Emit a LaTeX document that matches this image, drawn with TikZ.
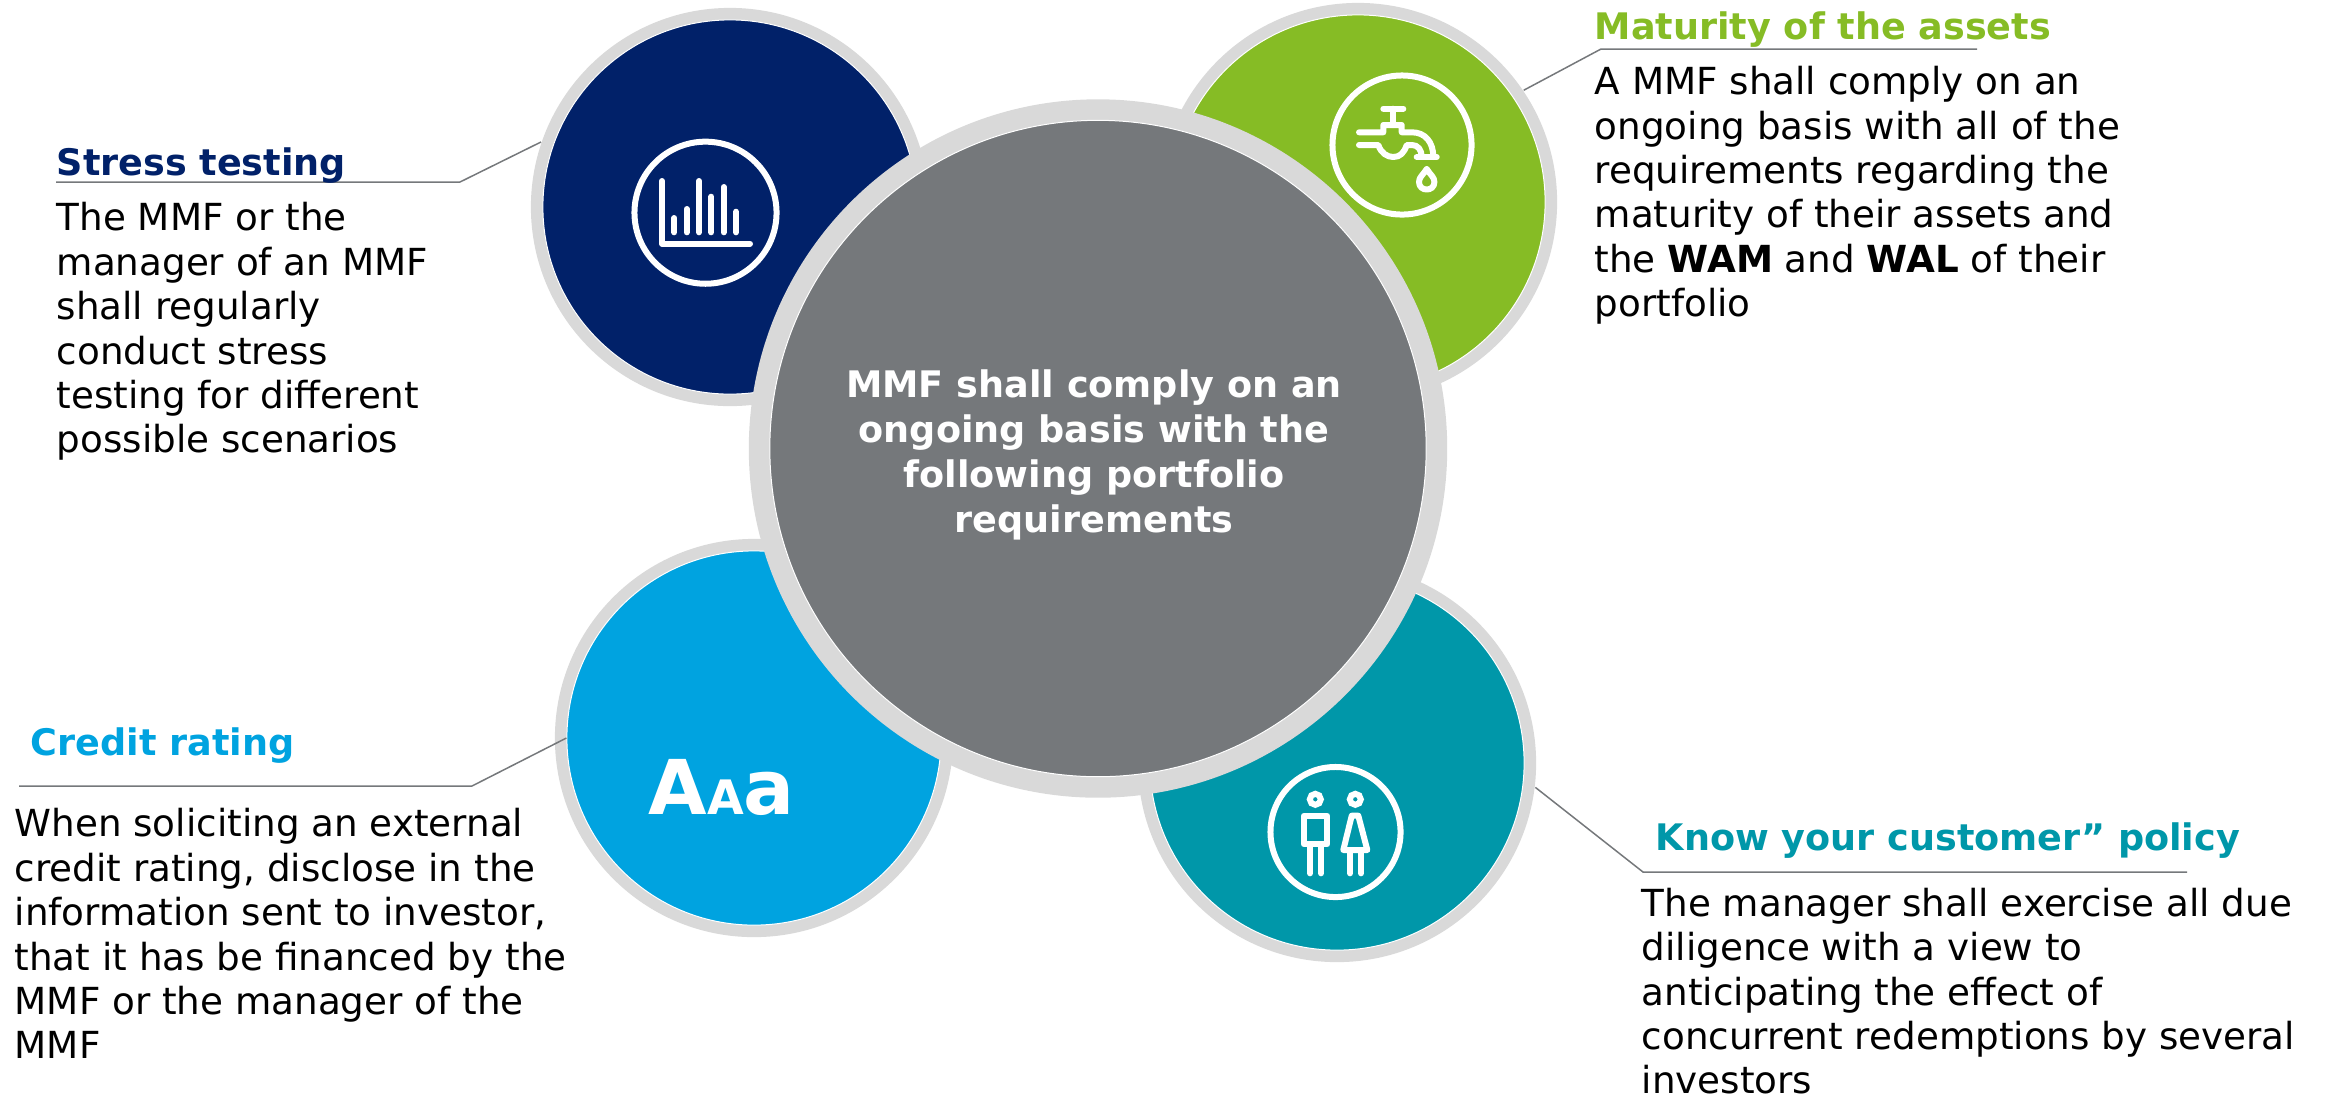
\documentclass[tikz,border=0pt]{standalone}
\usepackage{fontspec}
\setmainfont{DejaVu Sans}
\definecolor{navy}{HTML}{012169}
\definecolor{leaf}{HTML}{86BC25}
\definecolor{sky}{HTML}{00A3E0}
\definecolor{sea}{HTML}{0097A9}
\definecolor{slate}{HTML}{75787B}
\definecolor{halo}{HTML}{D9D9D9}
\begin{document}
\begin{tikzpicture}[x=0.01cm,y=-0.01cm]
  \tikzstyle{ring}=[circle, fill=halo, minimum size=3.98cm, inner sep=0pt]
  \tikzstyle{disc}=[circle, draw=white, line width=0.01cm, minimum size=3.74cm, inner sep=0pt]
  \tikzstyle{emblem}=[circle, draw=white, line width=0.06cm, inner sep=0pt]
  \tikzstyle{stroke}=[draw=white, line width=0.06cm, line cap=round, line join=round]
  \tikzstyle{leader}=[draw=slate, line width=0.015cm]
  \tikzstyle{head}=[anchor=base west, inner sep=0pt, font=\fontsize{10.4}{14}\selectfont\bfseries]
  \tikzstyle{body}=[anchor=north west, inner sep=0pt, align=left, font=\fontsize{10.6}{12.65}\selectfont]

  \useasboundingbox (0,0) rectangle (2325,1099);

  \node[ring]            (navyring) at (730,  207) {};
  \node[ring]            (leafring) at (1358, 202) {};
  \node[ring]            (skyring)  at (754,  738) {};
  \node[ring]            (searing)  at (1337, 763) {};
  \node[disc, fill=navy] (navydisc) at (730,  207) {};
  \node[disc, fill=leaf] (leafdisc) at (1358, 202) {};
  \node[disc, fill=sky]  (skydisc)  at (754,  738) {};
  \node[disc, fill=sea]  (seadisc)  at (1337, 763) {};

  \node[ring, minimum size=6.98cm] (mainring) at (1098, 448.5) {};
  \node[disc, fill=slate, minimum size=6.56cm] (maindisc) at (1098, 448.5) {};
  \node[align=center, inner sep=0pt, text=white, font=\fontsize{10.4}{12.75}\selectfont\bfseries] (mainlabel) at (1094, 455)
    {MMF shall comply on an\\ongoing basis with the\\following portfolio\\requirements};

  % bars
  \node[emblem, minimum size=1.42cm] (barsicon) at (705.5, 212.7) {};
  \draw[stroke] (662,181) -- (662,243.7) -- (750,243.7);
  \draw[stroke] (674.3,218) -- (674.3,232.3);
  \draw[stroke] (686.7,209) -- (686.7,232.3);
  \draw[stroke] (699,181) -- (699,232.3);
  \draw[stroke] (711.3,196.7) -- (711.3,232.3);
  \draw[stroke] (723.7,187) -- (723.7,232.3);
  \draw[stroke] (736,211.7) -- (736,232.3);

  % tap
  \node[emblem, minimum size=1.39cm] (tapicon) at (1402, 145) {};
  \draw[stroke] (1383.3,108.7) -- (1403.3,108.7);
  \draw[stroke] (1393.3,108.7) -- (1393.3,125);
  \draw[stroke] (1359,132.3) -- (1383.3,132.3) -- (1383.3,125) -- (1401.7,125) -- (1401.7,132.3) -- (1412,132.3)
    .. controls (1425,132.3) and (1433.3,142) .. (1433.3,157);
  \draw[stroke] (1359,145) -- (1378.3,145) .. controls (1381,153) and (1387,157) .. (1393.3,157)
    .. controls (1400,157) and (1404,153) .. (1406.7,145) -- (1412,145) .. controls (1418,145) and (1421.7,150) .. (1421.7,157);
  \draw[stroke] (1416.7,157) -- (1436.7,157);
  \draw[stroke] (1426.7,169) .. controls (1423,175) and (1419,177) .. (1419,182)
    .. controls (1419,192) and (1434.4,192) .. (1434.4,182) .. controls (1434.4,177) and (1430.4,175) .. (1426.7,169);

  % people
  \node[emblem, minimum size=1.30cm] (peopleicon) at (1335.5, 832) {};
  \node[emblem, minimum size=0.11cm] (manhead) at (1315.3, 799.3) {};
  \node[emblem, minimum size=0.11cm] (womanhead) at (1355.3, 799.3) {};
  \draw[stroke] (1304,815.7) rectangle (1327.3,844.3);
  \draw[stroke] (1310,844.3) -- (1310,873.3);
  \draw[stroke] (1321,844.3) -- (1321,873.3);
  \draw[stroke] (1351.7,815.7) -- (1358.3,815.7) -- (1367.3,850) -- (1343.3,850) -- cycle;
  \draw[stroke] (1350,850) -- (1350,873.3);
  \draw[stroke] (1361,850) -- (1361,873.3);

  \node[anchor=base west, inner sep=0pt, text=white, font=\bfseries\fontsize{21.5}{22}\selectfont] (letters) at (648, 814)
    {A{\fontsize{13.5}{14}\selectfont A}a};

  \coordinate (navyknee) at (460, 182);
  \coordinate (navyend)  at (56,  182);
  \coordinate (leafknee) at (1601, 49);
  \coordinate (leafend)  at (1977, 49);
  \coordinate (skyknee)  at (472, 786);
  \coordinate (skyend)   at (19,  786);
  \coordinate (seaknee)  at (1643, 872);
  \coordinate (seaend)   at (2187, 872);

  \draw[leader] (navyring.161.6) -- (navyknee) -- (navyend);
  \draw[leader] (leafring.34)    -- (leafknee) -- (leafend);
  \draw[leader] (skydisc.180)    -- (skyknee)  -- (skyend);
  \draw[leader] (searing.-7)     -- (seaknee)  -- (seaend);

  \node[head, text=navy] (stresshead)   at (56,   175) {Stress testing};
  \node[head, text=leaf] (maturityhead) at (1594, 39)  {Maturity of the assets};
  \node[head, text=sky]  (credithead)   at (30,   755) {Credit rating};
  \node[head, text=sea]  (knowhead)     at (1655, 850) {Know your customer” policy};

  \node[body] (stressbody) at (56, 201.5)
    {The MMF or the\\manager of an MMF\\shall regularly\\conduct stress\\testing for different\\possible scenarios};
  \node[body] (maturitybody) at (1594, 65.5)
    {A MMF shall comply on an\\ongoing basis with all of the\\requirements regarding the\\maturity of their assets and\\the \textbf{WAM} and \textbf{WAL} of their\\portfolio};
  \node[body] (creditbody) at (14, 807.5)
    {When soliciting an external\\credit rating, disclose in the\\information sent to investor,\\that it has be financed by the\\MMF or the manager of the\\MMF};
  \node[body] (knowbody) at (1641, 887)
    {The manager shall exercise all due\\diligence with a view to\\anticipating the effect of\\concurrent redemptions by several\\investors};
\end{tikzpicture}
\end{document}
